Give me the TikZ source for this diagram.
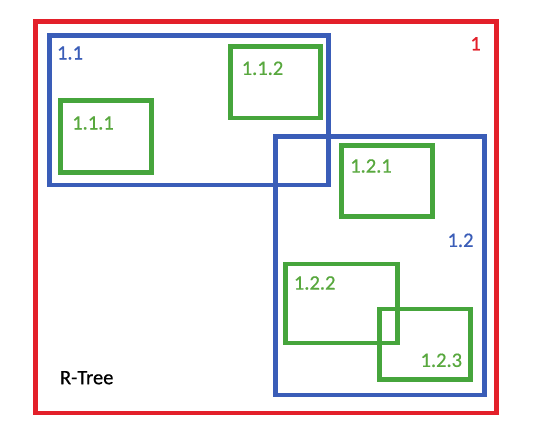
\documentclass[tikz,border=0pt]{standalone}
\usepackage{fontspec}
\setmainfont{Carlito}[FakeBold=0.6]
\definecolor{rred}{HTML}{E3202A}
\definecolor{rblue}{HTML}{3A5DB8}
\definecolor{rgreen}{HTML}{46A53C}
\definecolor{tgreen}{HTML}{58A83E}
\begin{document}
\begin{tikzpicture}[x=1pt,y=-1pt,
  box/.style={draw,rectangle,inner sep=0pt,outer sep=0pt,line width=4.6pt},
  lvl0/.style={box,draw=rred},
  lvl1/.style={box,draw=rblue},
  lvl2/.style={box,draw=rgreen},
  lbl/.style={inner sep=0pt,font=\fontsize{20.5pt}{24pt}\selectfont}]
\useasboundingbox[fill=white] (0,0) rectangle (543,433);
% red root
\node[lvl0,minimum width=461.4pt,minimum height=391.3pt] (n1) at (266,217.35) {};
% blue
\node[lvl1,minimum width=278.6pt,minimum height=149.3pt] (n11) at (189,110.35) {};
\node[lvl1,minimum width=208.6pt,minimum height=258.3pt] (n12) at (380,265.85) {};
% green
\node[lvl2,minimum width=90.6pt,minimum height=71.6pt] (n111) at (106,136.5) {};
\node[lvl2,minimum width=89.5pt,minimum height=71.3pt] (n112) at (275.45,82.35) {};
\node[lvl2,minimum width=90.6pt,minimum height=70.6pt] (n121) at (387,181) {};
\node[lvl2,minimum width=111.6pt,minimum height=79pt] (n122) at (341.5,303.5) {};
\node[lvl2,minimum width=90.6pt,minimum height=70.7pt] (n123) at (425,344.35) {};
% labels
\node[lbl,text=rred] (t1) at (475.5,43.7) {1};
\node[lbl,text=rblue] (t11) at (70,53) {1.1};
\node[lbl,text=rblue] (t12) at (460.5,240.3) {1.2};
\node[lbl,text=tgreen] (t111) at (93,123) {1.1.1};
\node[lbl,text=tgreen] (t112) at (262.5,68.3) {1.1.2};
\node[lbl,text=tgreen] (t121) at (371,166) {1.2.1};
\node[lbl,text=tgreen] (t122) at (314.7,283) {1.2.2};
\node[lbl,text=tgreen] (t123) at (441.3,360.3) {1.2.3};
\node[lbl,text=black] (trt) at (86.7,377.7) {R-Tree};
\end{tikzpicture}
\end{document}
